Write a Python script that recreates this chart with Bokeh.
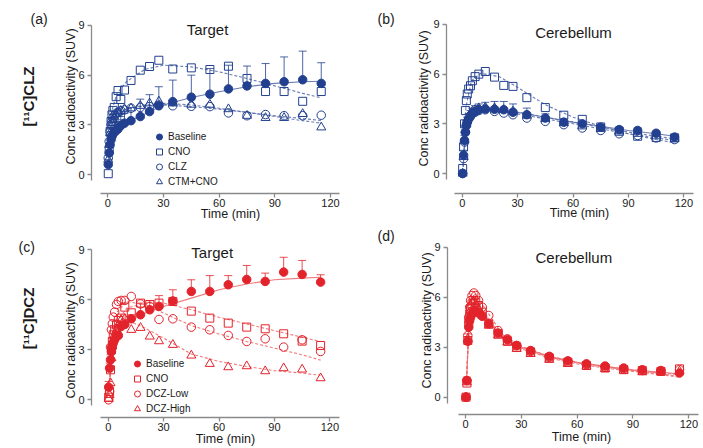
import math
from bokeh.plotting import figure
from bokeh.models import Range1d, FixedTicker, Label, Legend, LegendItem
from bokeh.layouts import gridplot
from bokeh.embed import file_html
from bokeh.resources import INLINE

# ---------------- data ----------------
T = [0.25, 0.75, 1.25, 1.75, 2.25, 2.75, 3.5, 4.5, 5.5, 7, 9, 12.5, 17.5, 22.5,
     27.5, 35, 45, 55, 65, 75, 85, 95, 105, 115]
FT = [0.5, 2, 5, 10, 20, 30, 45, 60, 75, 90, 105, 115]
X_TICKS = [0, 30, 60, 90, 120]
Y_TICKS = [0, 3, 6, 9]

# (a) [11C]CLZ target
a_base = [0.6, 1.3, 1.8, 2.1, 2.3, 2.45, 2.55, 2.65, 2.75, 2.95, 3.1, 3.25, 3.5, 3.8,
          4.15, 4.4, 4.67, 4.85, 5.17, 5.35, 5.5, 5.6, 5.72, 5.5]
a_base_top = [0.9, 1.8, 2.3, 2.6, 2.8, 2.95, 3.05, 3.2, 3.3, 3.5, 3.7, 4.05, 4.55, 4.82,
              5.3, 5.7, 6.0, 6.4, 6.6, 6.55, 6.7, 7.1, 7.45, 6.75]
a_cno = [0.05, 1.5, 2.6, 3.2, 3.6, 3.87, 4.05, 4.7, 5.07, 4.53, 5.1, 5.68, 6.3, 6.52,
         6.9, 6.37, 6.44, 6.34, 6.54, 5.8, 5.01, 5.01, 4.42, 5.01]
a_clz = [1.0, 2.0, 2.6, 3.0, 3.2, 3.4, 3.55, 3.7, 3.75, 3.85, 3.9, 4.0, 4.05, 4.1,
         4.2, 4.15, 4.12, 4.1, 3.72, 3.55, 3.62, 3.55, 3.55, 3.58]
a_ctm = [0.9, 1.8, 2.5, 2.9, 3.1, 3.3, 3.5, 3.65, 3.75, 3.85, 3.95, 4.0, 4.15, 4.3,
         4.42, 4.3, 4.22, 4.22, 3.95, 3.55, 3.42, 3.42, 3.66, 2.85]
a_fit_base = [0.6, 2.3, 2.8, 3.15, 3.65, 4.2, 4.65, 5.0, 5.3, 5.5, 5.6, 5.63]
a_fit_cno = [0.3, 3.8, 4.9, 5.6, 6.35, 6.6, 6.5, 6.2, 5.8, 5.35, 4.9, 4.63]
a_fit_clz = [1.0, 3.3, 3.75, 3.95, 4.15, 4.2, 4.1, 3.95, 3.75, 3.55, 3.38, 3.26]
a_fit_ctm = [0.9, 3.2, 3.7, 3.95, 4.2, 4.3, 4.2, 4.0, 3.75, 3.5, 3.25, 3.1]

# (b) [11C]CLZ cerebellum
b_base = [0.0, 1.1, 2.0, 2.5, 2.9, 3.1, 3.3, 3.5, 3.65, 3.75, 3.85, 3.9, 3.88, 3.85,
          3.7, 3.55, 3.35, 3.1, 3.0, 2.8, 2.65, 2.6, 2.43, 2.2]
b_base_top = [0.2, 1.4, 2.3, 2.8, 3.2, 3.4, 3.6, 3.8, 3.95, 4.1, 4.2, 4.3, 4.35, 4.35,
              4.2, 3.95, 3.6, 3.3, 3.15, 2.95, 2.8, 2.75, 2.55, 2.3]
b_cno = [0.3, 1.6, 3.0, 3.8, 4.4, 4.8, 5.1, 5.3, 5.6, 5.85, 6.0, 6.16, 5.82, 5.32,
         5.26, 4.58, 3.98, 3.52, 3.27, 2.81, 2.55, 2.25, 2.17, 2.15]
b_clz = [0.0, 0.9, 1.9, 2.5, 2.9, 3.1, 3.3, 3.45, 3.6, 3.7, 3.8, 3.85, 3.75, 3.65,
         3.55, 3.35, 3.15, 2.95, 2.75, 2.6, 2.4, 2.3, 2.15, 2.05]
b_ctm = [0.0, 1.0, 2.0, 2.6, 3.0, 3.2, 3.4, 3.6, 3.75, 3.85, 3.95, 4.0, 3.95, 3.85,
         3.75, 3.5, 3.3, 3.05, 2.85, 2.7, 2.55, 2.4, 2.25, 2.1]
b_fit_base = [0.5, 2.6, 3.55, 3.85, 3.85, 3.7, 3.4, 3.1, 2.85, 2.6, 2.4, 2.25]
b_fit_cno = [0.5, 4.0, 5.6, 6.05, 5.85, 5.2, 4.15, 3.4, 2.85, 2.4, 2.05, 1.85]
b_fit_clz = [0.4, 2.8, 3.5, 3.8, 3.75, 3.6, 3.3, 3.0, 2.7, 2.4, 2.15, 2.0]
b_fit_ctm = [0.4, 2.7, 3.6, 3.9, 3.85, 3.7, 3.4, 3.1, 2.8, 2.5, 2.25, 2.1]

# (c) [11C]DCZ target
c_base = [0.76, 1.9, 2.4, 2.9, 3.2, 3.4, 3.6, 3.8, 3.86, 4.4, 4.52, 4.86, 5.1, 5.4,
          5.6, 5.93, 6.5, 6.5, 6.9, 7.22, 7.1, 7.66, 7.52, 7.06]
c_base_top = [1.1, 2.2, 2.7, 3.2, 3.5, 3.7, 3.9, 4.1, 4.2, 4.7, 4.8, 5.1, 5.8, 5.95,
              6.25, 6.6, 7.2, 7.45, 7.45, 8.06, 7.6, 8.55, 8.36, 7.5]
c_cno = [0.16, 0.5, 1.8, 3.0, 3.5, 3.9, 4.2, 4.5, 4.76, 4.9, 5.56, 5.22, 5.8, 5.72,
         5.8, 5.9, 5.32, 4.9, 4.6, 4.36, 4.26, 3.96, 3.52, 3.26]
c_low = [0.0, 0.5, 3.16, 4.2, 4.56, 4.96, 5.26, 5.72, 5.9, 5.96, 5.96, 6.2, 5.75, 5.6,
         4.82, 4.86, 4.36, 4.2, 3.86, 3.5, 3.66, 3.16, 3.6, 2.9]
c_high = [0.06, 0.3, 1.0, 2.5, 3.2, 3.6, 3.9, 4.2, 4.5, 4.8, 4.86, 4.2, 4.32, 3.8,
          3.52, 3.3, 2.66, 2.16, 1.96, 2.02, 1.72, 1.9, 1.82, 1.3]
c_fit_base = [0.8, 2.6, 3.8, 4.6, 5.2, 5.6, 6.1, 6.6, 6.95, 7.2, 7.3, 7.35]
c_fit_cno = [0.5, 3.0, 4.7, 5.5, 5.8, 5.8, 5.4, 4.95, 4.55, 4.15, 3.75, 3.5]
c_fit_low = [0.5, 3.5, 5.3, 5.9, 5.7, 5.2, 4.45, 3.95, 3.5, 3.1, 2.7, 2.38]
c_fit_high = [0.5, 3.0, 4.5, 4.8, 4.3, 3.7, 2.75, 2.3, 2.0, 1.75, 1.6, 1.47]

# (d) [11C]DCZ cerebellum
d_base = [0.0, 1.0, 3.35, 4.2, 4.6, 4.8, 5.0, 5.1, 5.15, 5.05, 4.85, 4.4, 3.85, 3.45,
          3.1, 2.8, 2.45, 2.18, 2.0, 1.87, 1.75, 1.65, 1.6, 1.45]
d_base_top = [0.1, 1.2, 3.8, 4.5, 4.85, 5.05, 5.25, 5.35, 5.4, 5.3, 5.1, 4.6, 4.05, 3.65,
              3.3, 2.95, 2.6, 2.3, 2.1, 1.97, 1.85, 1.75, 1.7, 1.55]
d_cno = [0.0, 0.85, 3.4, 4.5, 5.0, 5.3, 5.6, 5.8, 5.7, 5.5, 5.1, 4.4, 3.8, 3.35,
         3.0, 2.7, 2.35, 2.1, 1.9, 1.75, 1.65, 1.6, 1.55, 1.7]
d_low = [0.0, 1.0, 3.7, 4.8, 5.4, 5.8, 6.1, 6.25, 6.1, 5.8, 5.4, 4.9, 4.0, 3.5,
         3.1, 2.75, 2.4, 2.1, 1.95, 1.8, 1.7, 1.6, 1.55, 1.65]
d_high = [0.0, 0.9, 3.5, 4.6, 5.1, 5.5, 5.7, 5.8, 5.6, 5.3, 4.9, 4.3, 3.7, 3.3,
          2.9, 2.6, 2.25, 2.0, 1.85, 1.7, 1.6, 1.5, 1.5, 1.55]
d_fit_base = [0.8, 4.5, 5.1, 4.8, 3.6, 3.0, 2.45, 2.1, 1.85, 1.65, 1.5, 1.4]
d_fit_cno = [0.8, 4.8, 5.75, 5.1, 3.6, 2.95, 2.4, 2.05, 1.8, 1.6, 1.45, 1.35]
d_fit_low = [0.8, 5.2, 6.2, 5.4, 3.75, 3.05, 2.45, 2.1, 1.85, 1.6, 1.4, 1.25]
d_fit_high = [0.8, 5.0, 5.8, 5.0, 3.55, 2.9, 2.35, 2.0, 1.75, 1.55, 1.35, 1.2]

CLZ_LABELS = ["Baseline", "CNO", "CLZ", "CTM+CNO"]
DCZ_LABELS = ["Baseline", "CNO", "DCZ-Low", "DCZ-High"]

# ---------------- style ----------------
BLUE = "#22408f"
BLUE_LINE = "#5b6fa8"
RED = "#e3232b"
RED_LINE = "#ee6a6e"
FONT = "Liberation Sans"
AXIS_GRAY = "#8a8a8a"
TEXT = "#1a1a1a"
MARKERS = [("circle", True, 8.5), ("square", False, 8), ("circle", False, 8.5), ("triangle", False, 9)]


def panel(fig, axes_px, cal, color, line_color, series, fits, top, labels, title, title_px,
          letter, letter_px, ylab_px, xlab_px, drug=None, drug_px=None, legend_px=None):
    ox, oy, w, h = fig
    yaxis_px, xaxis_px = axes_px
    x0px, xppu, y0px, yppu = cal

    def dx(px):
        return (px - x0px) / xppu

    def dy(py):
        return (y0px - py) / yppu

    p = figure(width=w, height=h, x_range=Range1d(dx(ox), dx(ox + w)),
               y_range=Range1d(dy(oy + h), dy(oy)),
               output_backend="svg", toolbar_location=None,
               min_border_left=0, min_border_right=0, min_border_top=0, min_border_bottom=0)
    p.min_border = 0
    p.xgrid.visible = False
    p.ygrid.visible = False
    p.outline_line_color = None
    p.xaxis.fixed_location = dy(xaxis_px)
    p.yaxis.fixed_location = dx(yaxis_px)
    for ax, ticks, bounds in ((p.xaxis, X_TICKS, (-4, 125)), (p.yaxis, Y_TICKS, (-0.35, 9))):
        ax.ticker = FixedTicker(ticks=ticks)
        ax.bounds = bounds
        ax.axis_line_color = AXIS_GRAY
        ax.axis_line_width = 1.3
        ax.major_tick_line_color = AXIS_GRAY
        ax.major_tick_line_width = 1.3
        ax.major_tick_in = 0
        ax.major_tick_out = 4
        ax.minor_tick_line_color = None
        ax.major_label_text_font = FONT
        ax.major_label_text_font_size = "11px"
        ax.major_label_text_color = TEXT
    p.xaxis.major_label_standoff = 1
    p.yaxis.major_label_standoff = 3

    for i, f in enumerate(fits):
        p.line(FT, f, line_color=line_color, line_width=1.1,
               line_dash="solid" if i == 0 else "3 2", line_alpha=0.9)
    base = series[0]
    p.segment(x0=T, y0=base, x1=T, y1=top, line_color=color, line_width=1, line_alpha=0.8)
    p.scatter(T, top, marker="dash", size=8, line_color=color, line_width=1, line_alpha=0.8)
    rends = [None] * len(series)
    for i in reversed(range(len(series))):
        m, filled, sz = MARKERS[i]
        rends[i] = p.scatter(T, series[i], marker=m, size=sz, line_color=color, line_width=1,
                             fill_color=color if filled else None)

    if legend_px is not None:
        leg = Legend(items=[LegendItem(label=labels[i], renderers=[rends[i]]) for i in range(4)],
                     location=(legend_px[0] - ox, oy + h - legend_px[1]), orientation="vertical",
                     glyph_width=18, glyph_height=15, label_height=15, label_width=10,
                     spacing=0, padding=0, margin=0, label_standoff=0,
                     border_line_color=None, background_fill_alpha=0,
                     label_text_font=FONT, label_text_font_size="10px", label_text_color=TEXT)
        p.add_layout(leg)

    def txt(text, px, py, size, angle=0.0, align="center", bold=False):
        p.add_layout(Label(x=dx(px), y=dy(py), x_units="data", y_units="data", text=text,
                           angle=angle, text_align=align, text_baseline="middle",
                           text_font=FONT, text_font_size=size, text_color=TEXT,
                           text_font_style="bold" if bold else "normal"))

    txt(title, title_px[0], title_px[1], "15px")
    txt(letter, letter_px[0], letter_px[1], "14px", align="left")
    txt("Conc radioactivity (SUV)", ylab_px[0], ylab_px[1], "12.5px", angle=math.pi / 2)
    txt("Time (min)", xlab_px[0], xlab_px[1], "12.5px")
    if drug:
        txt(drug, drug_px[0], drug_px[1], "15px", angle=math.pi / 2, bold=True)
    return p


pa = panel((0, 0, 351, 224), (91, 193), (107.3, 1.856, 174, 16.56), BLUE, BLUE_LINE,
           [a_base, a_cno, a_clz, a_ctm], [a_fit_base, a_fit_cno, a_fit_clz, a_fit_ctm],
           a_base_top, CLZ_LABELS, "Target", (207, 29), "(a)", (30, 18.5), (70, 96), (230, 213),
           drug="[¹¹C]CLZ", drug_px=(28, 96), legend_px=(150, 188.5))
pb = panel((351, 0, 349, 224), (446, 193), (461.7, 1.847, 173, 16.56), BLUE, BLUE_LINE,
           [b_base, b_cno, b_clz, b_ctm], [b_fit_base, b_fit_cno, b_fit_clz, b_fit_ctm],
           b_base_top, CLZ_LABELS, "Cerebellum", (573, 32), "(b)", (377, 18.5), (423, 98), (579, 212))
pc = panel((0, 224, 351, 222), (91, 417), (107.7, 1.847, 399.3, 16.67), RED, RED_LINE,
           [c_base, c_cno, c_low, c_high], [c_fit_base, c_fit_cno, c_fit_low, c_fit_high],
           c_base_top, DCZ_LABELS, "Target", (211.7, 251.7), "(c)", (18, 246.5), (70, 330), (225, 438),
           drug="[¹¹C]DCZ", drug_px=(28, 318), legend_px=(128, 416))
pd_ = panel((351, 224, 349, 222), (447, 414), (465, 1.861, 396.7, 16.67), RED, RED_LINE,
            [d_base, d_cno, d_low, d_high], [d_fit_base, d_fit_cno, d_fit_low, d_fit_high],
            d_base_top, DCZ_LABELS, "Cerebellum", (573.3, 257.3), "(d)", (377, 235), (426, 320), (581, 436))

grid = gridplot([[pa, pb], [pc, pd_]], toolbar_location=None)
open("out.html", "w").write(file_html(grid, INLINE))
